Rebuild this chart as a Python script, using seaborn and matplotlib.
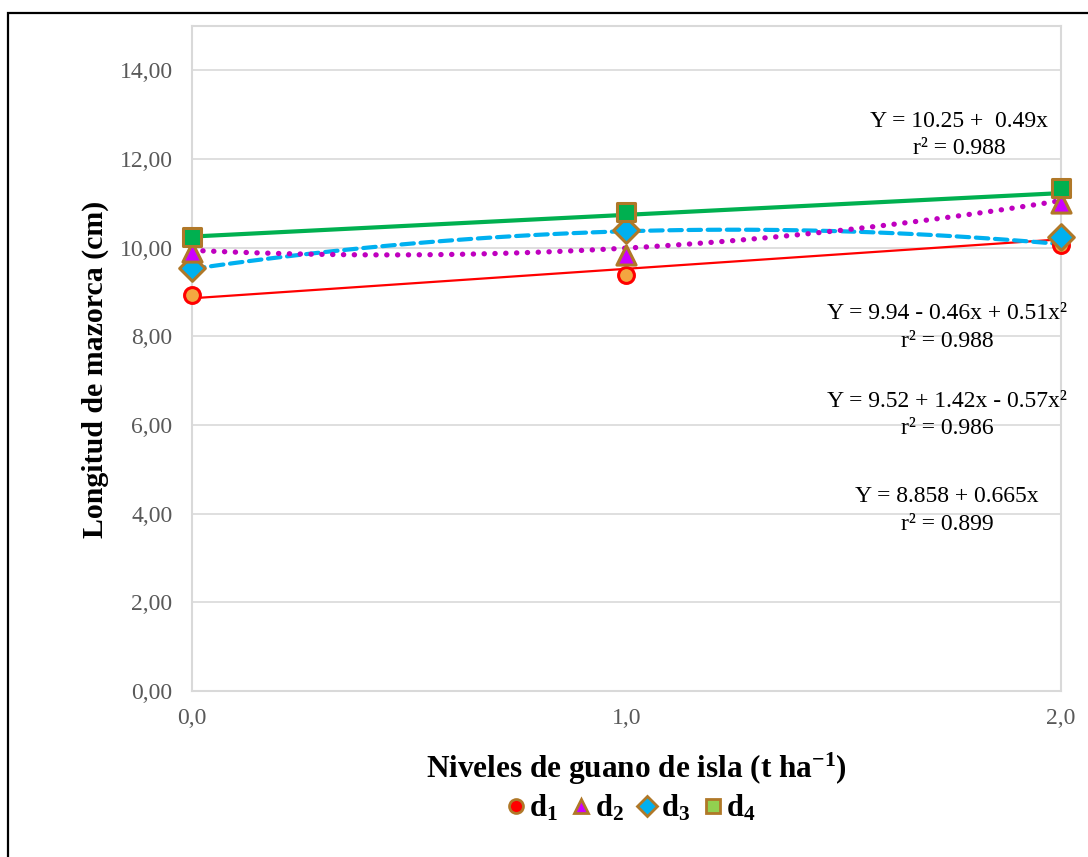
"""Longitud de mazorca vs niveles de guano de isla, with trend lines per dose."""

import matplotlib.pyplot as plt
import numpy as np
import pandas as pd
import seaborn as sns
from matplotlib.lines import Line2D
from matplotlib.patches import Rectangle

# Data
niveles = [0.0, 1.0, 2.0]
d1 = [8.93, 9.38, 10.05]
d2 = [9.90, 9.83, 11.00]
d3 = [9.54, 10.39, 10.23]
d4 = [10.23, 10.80, 11.34]

# Trend equation coefficients as printed on the chart (c0, c1, c2)
coef_d1 = [8.858, 0.665, 0.0]
coef_d2 = [9.94, -0.46, 0.51]
coef_d3 = [9.52, 1.42, -0.57]
coef_d4 = [10.25, 0.49, 0.0]

ecuaciones = [
    ("Y = 10.25 +  0.49x", "r² = 0.988"),
    ("Y = 9.94 - 0.46x + 0.51x²", "r² = 0.988"),
    ("Y = 9.52 + 1.42x - 0.57x²", "r² = 0.986"),
    ("Y = 8.858 + 0.665x", "r² = 0.899"),
]

yticks = [0, 2, 4, 6, 8, 10, 12, 14]
ytick_labels = ["0,00", "2,00", "4,00", "6,00", "8,00", "10,00", "12,00", "14,00"]
xticks = [0, 1, 2]
xtick_labels = ["0,0", "1,0", "2,0"]

brown = "#B07828"
series = {
    "d1": dict(y=d1, coef=coef_d1, line="#FF0000", lw=1.6, ls="-",
               marker="o", s=130, face="#F4A640", edge="#FF0000", leg_face="#FF0000"),
    "d3": dict(y=d3, coef=coef_d3, line="#00B0F0", lw=3.0, ls=(0, (3, 1.6)),
               marker="D", s=170, face="#00B0F0", edge=brown, leg_face="#00B0F0"),
    "d2": dict(y=d2, coef=coef_d2, line="#BF00BF", lw=3.8, ls=(0, (0.05, 2.0)),
               marker="^", s=190, face="#CC00FF", edge=brown, leg_face="#CC00FF"),
    "d4": dict(y=d4, coef=coef_d4, line="#00B050", lw=3.0, ls="-",
               marker="s", s=170, face="#00B050", edge=brown, leg_face="#92D050"),
}

sns.set_style("white")
plt.rcParams["font.family"] = ["Liberation Serif", "DejaVu Serif"]
plt.rcParams["text.color"] = "black"
plt.rcParams["axes.labelcolor"] = "black"
plt.rcParams["mathtext.fontset"] = "custom"
plt.rcParams["mathtext.rm"] = "Liberation Serif"
plt.rcParams["mathtext.bf"] = "Liberation Serif:bold"
plt.rcParams["mathtext.default"] = "bf"

fig = plt.figure(figsize=(10.88, 8.57), dpi=100)
ax = fig.add_axes([0.1765, 0.1937, 0.7985, 0.776])

x_fino = np.linspace(0, 2, 60)
for name, st in series.items():
    c0, c1, c2 = st["coef"]
    trend = pd.DataFrame({"x": x_fino, "y": c0 + c1 * x_fino + c2 * x_fino ** 2})
    sns.lineplot(data=trend, x="x", y="y", color=st["line"], lw=st["lw"], ax=ax, zorder=3)
    ln = ax.get_lines()[-1]
    ln.set_linestyle(st["ls"])
    ln.set_dash_capstyle("round")

for name, st in series.items():
    sns.scatterplot(x=niveles, y=st["y"], marker=st["marker"], s=st["s"],
                    color=st["face"], edgecolor=st["edge"], linewidth=2.2,
                    ax=ax, zorder=5, clip_on=False)

ax.set_xlim(0, 2)
ax.set_ylim(0, 15)
ax.set_yticks(yticks)
ax.set_yticklabels(ytick_labels)
ax.set_xticks(xticks)
ax.set_xticklabels(xtick_labels)
ax.tick_params(axis="y", length=0, pad=14, labelsize=17, labelcolor="#595959")
ax.tick_params(axis="x", length=0, pad=12, labelsize=17, labelcolor="#595959")
ax.grid(axis="y", color="#D9D9D9", lw=1.2)
ax.set_axisbelow(True)
for sp in ax.spines.values():
    sp.set_color("#D9D9D9")
    sp.set_linewidth(1.5)

ax.set_xlabel(r"Niveles de guano de isla (t ha$^{-1}$)", fontsize=22.5, fontweight="bold")
ax.xaxis.set_label_coords(0.512, -0.09)
ax.set_ylabel("Longitud de mazorca (cm)", fontsize=21.5, fontweight="bold")
ax.yaxis.set_label_coords(-0.096, 0.483)

# Equation labels (axes fraction positions)
pos = [(0.883, 0.857, 0.815), (0.869, 0.568, 0.525), (0.869, 0.436, 0.394), (0.869, 0.292, 0.251)]
for (eq, r2), (px, py1, py2) in zip(ecuaciones, pos):
    ax.text(px, py1, eq, transform=ax.transAxes, ha="center", va="center", fontsize=17)
    ax.text(px, py2, r2, transform=ax.transAxes, ha="center", va="center", fontsize=17)

handles = []
labels = []
for name in ["d1", "d2", "d3", "d4"]:
    st = series[name]
    handles.append(Line2D([], [], ls="none", marker=st["marker"], markersize=10,
                          markerfacecolor=st["leg_face"], markeredgecolor=brown, markeredgewidth=2))
    labels.append(r"$d_%s$" % name[1])
fig.legend(handles, labels, loc="center", bbox_to_anchor=(0.578, 0.057), ncol=4, frameon=False,
           fontsize=22, handletextpad=0.0, columnspacing=0.3, handlelength=0.9)

fig.add_artist(Rectangle((0.0074, -0.05), 1.2, 1.035, transform=fig.transFigure,
                         fill=False, ec="black", lw=1.6))

fig.savefig("out.png", dpi=100)
